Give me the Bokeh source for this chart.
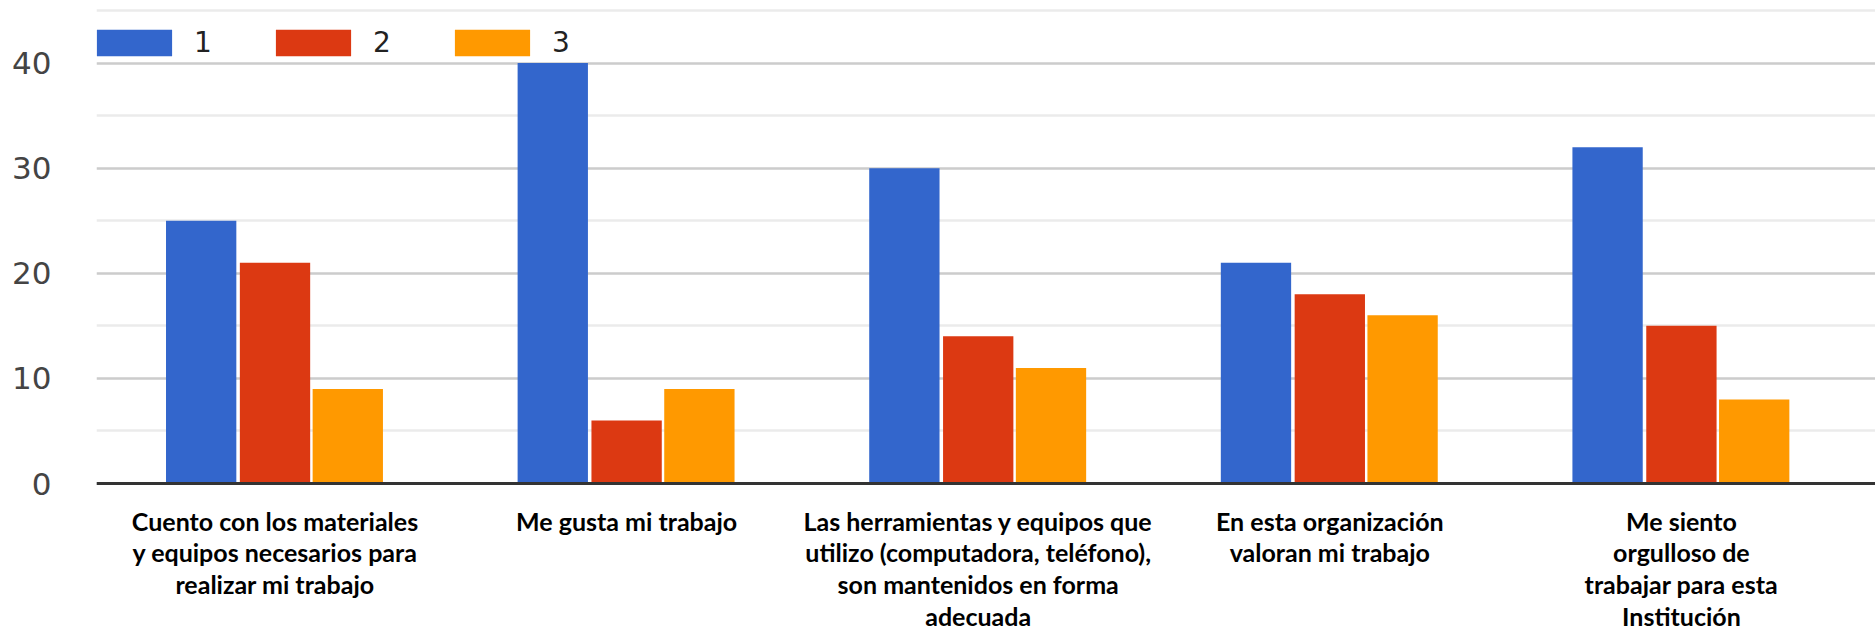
from bokeh.plotting import figure
from bokeh.models import (ColumnDataSource, Range1d, FixedTicker, Span, Legend,
                          LegendItem)
from bokeh.transform import dodge
from bokeh.core.properties import value
from bokeh.embed import file_html
from bokeh.resources import INLINE

categories = [
    "Cuento con los materiales\ny equipos necesarios para\nrealizar mi trabajo",
    "Me gusta mi trabajo",
    "Las herramientas y equipos que\nutilizo (computadora, teléfono),\nson mantenidos en forma\nadecuada",
    "En esta organización\nvaloran mi trabajo",
    "Me siento\norgulloso de\ntrabajar para esta\nInstitución",
]
series_names = ["1", "2", "3"]
s1 = [25, 40, 30, 21, 32]
s2 = [21, 6, 14, 18, 15]
s3 = [9, 9, 11, 16, 8]
y_ticks = [0, 10, 20, 30, 40]
y_minor = [5, 15, 25, 35, 45]
colors = ["#3366cc", "#dc3912", "#ff9900"]

idx = list(range(len(categories)))
src = ColumnDataSource(dict(x=idx, s1=s1, s2=s2, s3=s3, label=categories))

p = figure(width=1875, height=633, output_backend="svg", toolbar_location=None,
           x_range=Range1d(-0.5077, 4.552), y_range=Range1d(-14.27, 45.95),
           min_border_left=96, min_border_right=0, min_border_top=0,
           min_border_bottom=0)
p.outline_line_color = None
p.background_fill_color = "white"
p.border_fill_color = "white"

p.xaxis.visible = False
p.xgrid.visible = False

yax = p.yaxis[0]
yax.ticker = FixedTicker(ticks=y_ticks, minor_ticks=y_minor)
yax.axis_line_color = None
yax.major_tick_line_color = None
yax.minor_tick_line_color = None
yax.major_label_standoff = 39
yax.major_label_text_font = "DejaVu Sans"
yax.major_label_text_font_size = "31px"
yax.major_label_text_color = "#444444"

p.ygrid.grid_line_color = "#cccccc"
p.ygrid.grid_line_width = 2.5
p.ygrid.minor_grid_line_color = "#ebebeb"
p.ygrid.minor_grid_line_width = 2.5

offs = [-0.21, 0.0, 0.207]
renderers = []
for key, off, col in zip(["s1", "s2", "s3"], offs, colors):
    r = p.vbar(x=dodge("x", off, range=p.x_range), top=key, bottom=0, width=0.2,
               source=src, fill_color=col, line_color=None)
    renderers.append(r)

p.add_layout(Span(location=0, dimension="width", line_color="#333333", line_width=3))

p.text(x="x", y=-2.1, text="label", source=src, text_align="center",
       text_baseline="top", text_font=value("Lato"),
       text_font_style="bold", text_font_size="25px", text_color="#000000",
       text_line_height=1.06)

legend = Legend(items=[LegendItem(label=n, renderers=[r]) for n, r in zip(series_names, renderers)],
                orientation="horizontal", location=(-9, 574))
legend.glyph_width = 94
legend.glyph_height = 33
legend.label_standoff = 13
legend.spacing = 52
legend.padding = 0
legend.margin = 0
legend.border_line_color = None
legend.background_fill_alpha = 0
legend.label_text_font = "DejaVu Sans"
legend.label_text_font_size = "28px"
legend.label_text_color = "#222222"
p.add_layout(legend, "center")

open("out.html", "w").write(file_html(p, INLINE))
